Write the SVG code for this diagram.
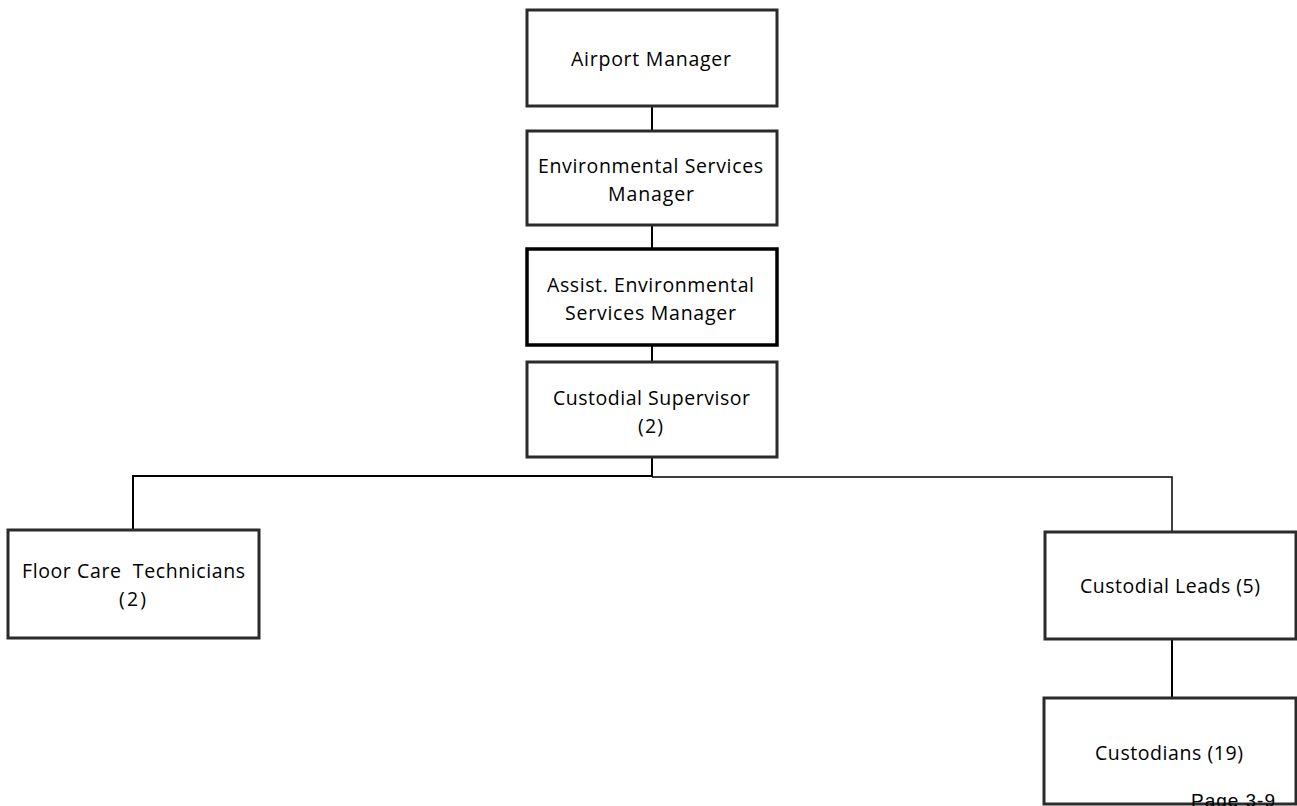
<svg xmlns="http://www.w3.org/2000/svg" width="1297" height="806" viewBox="0 0 1297 806">
<style>
.box{fill:#fff;stroke:#2b2b2b;stroke-width:3}
.bold{stroke:#000;stroke-width:3.5}
.t{font-family:"Open Sans","Liberation Sans",Arial,sans-serif;font-size:19.5px;fill:#000}
.c{fill:none;stroke:#000;stroke-width:2}
</style>
<rect width="1297" height="806" fill="#fff"/>
<g id="connectors">
<line class="c" x1="652" y1="106" x2="652" y2="131"/>
<line class="c" x1="652" y1="225" x2="652" y2="249"/>
<line class="c" x1="652" y1="345" x2="652" y2="362"/>
<line class="c" x1="652" y1="457" x2="652" y2="477"/>
<polyline class="c" points="652,476 133,476 133,530"/>
<polyline class="c" style="stroke-width:1.5" points="652,477 1172,477 1172,532"/>
<line class="c" x1="1172" y1="639" x2="1172" y2="698"/>
</g>
<g id="airport-manager">
<rect class="box" x="527" y="10" width="250" height="96"/>
<text class="t" x="571" y="66" textLength="160">Airport Manager</text>
</g>
<g id="env-services-manager">
<rect class="box" x="527" y="131" width="250" height="94"/>
<text class="t" x="538" y="173" textLength="225">Environmental Services</text>
<text class="t" x="608" y="201" textLength="86">Manager</text>
</g>
<g id="assist-env-services-manager">
<rect class="box bold" x="527" y="249" width="250" height="96"/>
<text class="t" x="547" y="292" textLength="207">Assist. Environmental</text>
<text class="t" x="565" y="320" textLength="171">Services Manager</text>
</g>
<g id="custodial-supervisor">
<rect class="box" x="527" y="362" width="250" height="95"/>
<text class="t" x="553" y="405" textLength="197">Custodial Supervisor</text>
<text class="t" x="638" y="433" textLength="25">(2)</text>
</g>
<g id="floor-care-technicians">
<rect class="box" x="8" y="530" width="251" height="108"/>
<text class="t" x="22" y="578" textLength="223" xml:space="preserve">Floor Care  Technicians</text>
<text class="t" x="119" y="606" textLength="27">(2)</text>
</g>
<g id="custodial-leads">
<rect class="box" x="1045" y="532" width="251" height="107"/>
<text class="t" x="1080" y="593" textLength="180">Custodial Leads (5)</text>
</g>
<g id="custodians">
<rect class="box" x="1044" y="698" width="252" height="106"/>
<text class="t" x="1095" y="760" textLength="148">Custodians (19)</text>
</g>
<text x="1191" y="807" style="font-family:'Liberation Sans',Arial,sans-serif;font-size:19px;fill:#000" textLength="84">Page 3-9</text>
</svg>
